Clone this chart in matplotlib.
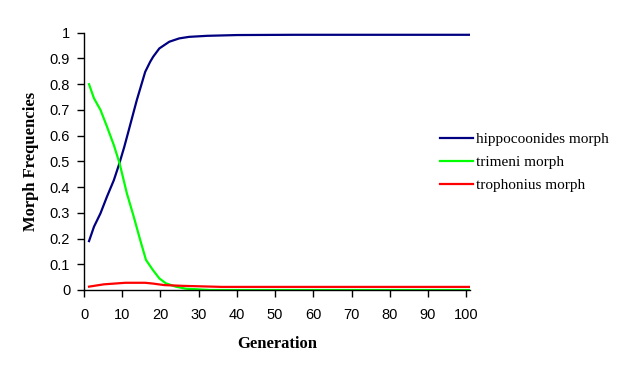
import matplotlib
matplotlib.use("Agg")
import matplotlib.pyplot as plt

# values (generation -> morph frequency)
gen_hippo = [1.3, 2.6, 4.3, 6.0, 7.8, 9.2, 10.5, 11.5, 13.8, 16.0, 17.3, 18.1, 19.7, 22.3, 24.9,
             27.5, 32.2, 40, 55, 75, 101]
hippo = [0.19, 0.246, 0.298, 0.363, 0.427, 0.49, 0.555, 0.61, 0.738, 0.848, 0.887, 0.907, 0.939,
         0.965, 0.978, 0.984, 0.988, 0.991, 0.992, 0.992, 0.992]

gen_trimeni = [1.3, 2.6, 4.3, 6.0, 7.8, 9.3, 11.2, 13.0, 14.7, 16.2, 18.0, 19.7, 21.4, 24.0, 26.6,
               33.0, 50, 75, 101]
trimeni = [0.80, 0.745, 0.70, 0.635, 0.563, 0.492, 0.376, 0.285, 0.194, 0.117, 0.078, 0.045, 0.026,
           0.013, 0.005, 0.0, 0.0, 0.0, 0.0]

gen_troph = [1.3, 5.2, 10.8, 16.0, 18.0, 21.0, 26.0, 36.0, 50, 75, 101]
troph = [0.013, 0.022, 0.028, 0.028, 0.025, 0.019, 0.016, 0.012, 0.012, 0.012, 0.012]

x_ticks = list(range(0, 101, 10))
y_ticks = [0, 0.1, 0.2, 0.3, 0.4, 0.5, 0.6, 0.7, 0.8, 0.9, 1]
y_tick_labels = ["0", "0.1", "0.2", "0.3", "0.4", "0.5", "0.6", "0.7", "0.8", "0.9", "1"]

fig = plt.figure(figsize=(6.18, 3.75), dpi=100)
ax = fig.add_axes([0.136, 0.2267, 0.6246, 0.686])

ax.plot(gen_hippo, hippo, color="#000080", lw=1.6, label="hippocoonides morph")
ax.plot(gen_trimeni, trimeni, color="#00ff00", lw=1.6, label="trimeni morph")
ax.plot(gen_troph, troph, color="#ff0000", lw=1.6, label="trophonius morph")

ax.set_xlim(0, 101)
ax.set_ylim(0, 1)
ax.set_xticks(x_ticks)
ax.set_yticks(y_ticks)
ax.set_yticklabels(y_tick_labels)
for s in ["top", "right"]:
    ax.spines[s].set_visible(False)
ax.spines["left"].set_linewidth(1)
ax.spines["bottom"].set_linewidth(1)
ax.tick_params(axis="both", direction="out", length=5, width=1, labelsize=10.5)
ax.tick_params(axis="x", pad=8)
ax.tick_params(axis="y", pad=5)
for lab in ax.get_xticklabels() + ax.get_yticklabels():
    lab.set_family("Liberation Sans")

ax.set_xlabel("Generation", family="Liberation Serif", fontweight="bold", fontsize=12, labelpad=10)
ax.set_ylabel("Morph Frequencies", family="Liberation Serif", fontweight="bold", fontsize=12, labelpad=8)

leg = ax.legend(loc="upper left", bbox_to_anchor=(0.689, 0.684), bbox_transform=fig.transFigure,
                frameon=False, prop={"family": "Liberation Serif", "size": 11},
                handlelength=2.2, handletextpad=0.2, labelspacing=0.62)

fig.savefig("out.png", dpi=100)
